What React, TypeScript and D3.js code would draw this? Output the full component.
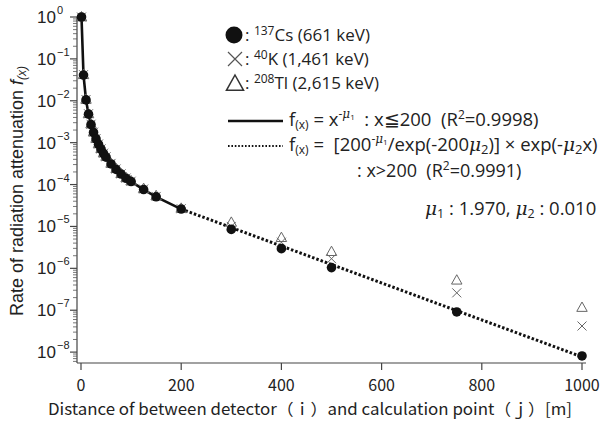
import React from "react";
import * as d3 from "d3";

const distances = [1, 5, 10, 15, 20, 25, 30, 35, 40, 45, 50, 60, 70, 80, 90, 100, 125, 150, 200, 300, 400, 500, 750, 1000];
const cs137 = [1, 0.041, 0.0105, 0.0048, 0.0027, 0.00175, 0.00123, 0.00091, 0.0007, 0.00055, 0.00045, 0.00031, 0.00023, 0.000178, 0.000141, 0.000118, 0.000076, 0.000051, 0.000026, 8.5e-6, 2.95e-6, 1.04e-6, 9.1e-8, 8.1e-9];
const k40 = [1, 0.042, 0.0107, 0.0049, 0.00275, 0.00178, 0.00125, 0.00093, 0.00071, 0.00056, 0.00046, 0.00032, 0.000235, 0.00018, 0.000143, 0.00012, 0.000078, 0.000052, 0.0000265, 1.0e-5, 4.2e-6, 1.7e-6, 2.6e-7, 4.2e-8];
const tl208 = [1, 0.042, 0.0108, 0.0049, 0.0028, 0.0018, 0.00126, 0.00094, 0.00072, 0.00057, 0.00047, 0.00032, 0.00024, 0.000182, 0.000145, 0.000122, 0.00008, 0.000054, 0.000027, 1.25e-5, 5.4e-6, 2.5e-6, 5.2e-7, 1.16e-7];
const fitExpX = [200, 1000];
const fitExpY = [2.6e-5, 7.7e-9];
const xTicks = [0, 200, 400, 600, 800, 1000];
const yExponents = [0, -1, -2, -3, -4, -5, -6, -7, -8];

const W = 606, H = 423;
const axisLeft = 77, axisBottom = 363, axisTop = 17, axisRight = 586;

export default function App() {
  const x = d3.scaleLinear().domain([0, 1000]).range([81, 582]);
  const y = d3.scaleLog().domain([Math.pow(10, -8.26), 1]).range([axisBottom, axisTop]);

  const powIdx = distances.map((d, i) => i).filter((i) => distances[i] <= 200);
  const solid = d3.line<number>().x((i) => x(distances[i])).y((i) => y(cs137[i]))(powIdx) || "";
  const dotted = d3.line<number>().x((i) => x(fitExpX[i])).y((i) => y(fitExpY[i]))([0, 1]) || "";

  const minor: number[] = [];
  for (let e = -9; e < 0; e++) for (let m = 2; m <= 9; m++) {
    const v = m * Math.pow(10, e);
    if (v >= Math.pow(10, -8.26) && v <= 1) minor.push(v);
  }

  const tri = (cx: number, cy: number, s: number) =>
    `M${cx},${cy - s}L${cx + s * 0.95},${cy + s * 0.7}L${cx - s * 0.95},${cy + s * 0.7}Z`;
  const cross = (cx: number, cy: number, s: number) =>
    `M${cx - s},${cy - s}L${cx + s},${cy + s}M${cx - s},${cy + s}L${cx + s},${cy - s}`;

  const lf = "'Open Sans', 'Noto Sans', sans-serif";
  const af = "'Noto Sans CJK JP', 'Liberation Sans', sans-serif";
  const mf = "'DejaVu Serif', 'Liberation Serif', serif";
  const pre = { whiteSpace: "pre" as const };

  return (
    <svg width={W} height={H} style={{ position: "absolute", left: 0, top: 0, background: "#fff" }}>
      <rect width={W} height={H} fill="#fff" />
      {/* axes */}
      <line x1={axisLeft} x2={axisLeft} y1={axisTop} y2={axisBottom} stroke="#444" strokeWidth={1.2} />
      <line x1={axisLeft} x2={axisRight} y1={axisBottom} y2={axisBottom} stroke="#444" strokeWidth={1.2} />
      {minor.map((v, i) => (
        <line key={"mn" + i} x1={axisLeft - 4} x2={axisLeft} y1={y(v)} y2={y(v)} stroke="#555" strokeWidth={0.8} />
      ))}
      {yExponents.map((e) => (
        <g key={"ye" + e}>
          <line x1={axisLeft - 7} x2={axisLeft} y1={y(Math.pow(10, e))} y2={y(Math.pow(10, e))} stroke="#444" strokeWidth={1.2} />
          <text x={56} y={y(Math.pow(10, e)) + 6} textAnchor="end" fontFamily="'Liberation Sans', sans-serif" fontSize={17} fill="#222">10</text>
          <text x={57} y={y(Math.pow(10, e)) - 3} fontFamily="'Liberation Sans', sans-serif" fontSize={11} fill="#222">{e === 0 ? "0" : "\u2212" + (-e)}</text>
        </g>
      ))}
      {xTicks.map((t) => (
        <g key={"xt" + t}>
          <line x1={x(t)} x2={x(t)} y1={axisBottom} y2={axisBottom + 7} stroke="#444" strokeWidth={1.2} />
          <text x={x(t)} y={391} textAnchor="middle" fontFamily={af} fontSize={16} fill="#222">{t}</text>
        </g>
      ))}
      <text x={310} y={415} textAnchor="middle" fontFamily={af} fontSize={16} fill="#222" textLength={524} lengthAdjust="spacingAndGlyphs">
        Distance of between detector（ｉ）and calculation point（ｊ）[m]
      </text>
      <text transform="translate(23,191) rotate(-90)" textAnchor="middle" fontFamily="'Liberation Sans', sans-serif" fontSize={18} fill="#222">
        Rate of radiation attenuation <tspan fontStyle="italic">f</tspan><tspan fontStyle="italic" fontSize={12} dy={3}>(x)</tspan>
      </text>

      {/* fit lines */}
      <path d={solid} fill="none" stroke="#111" strokeWidth={2.6} />
      <path d={dotted} fill="none" stroke="#111" strokeWidth={3} strokeDasharray="2.5,2" />

      {/* markers */}
      {distances.map((d, i) => (
        <path key={"tl" + i} d={tri(x(d), y(tl208[i]), 5.5)} fill="none" stroke="#666" strokeWidth={1} />
      ))}
      {distances.map((d, i) => (
        <path key={"k" + i} d={cross(x(d), y(k40[i]), 4.5)} fill="none" stroke="#666" strokeWidth={1} />
      ))}
      {distances.map((d, i) => (
        <circle key={"cs" + i} cx={x(d)} cy={y(cs137[i])} r={4.8} fill="#111" />
      ))}

      {/* legend */}
      <circle cx={234} cy={35} r={8.5} fill="#111" />
      <text x={245} y={41} fontFamily={lf} fontSize={17} fill="#222" style={pre}>: <tspan fontSize={12} dy={-6}>137</tspan><tspan dy={6}>Cs (661 keV)</tspan></text>
      <path d={cross(235, 59, 7)} stroke="#555" strokeWidth={1.2} fill="none" />
      <text x={245} y={65} fontFamily={lf} fontSize={17} fill="#222" style={pre}>: <tspan fontSize={12} dy={-6}>40</tspan><tspan dy={6}>K (1,461 keV)</tspan></text>
      <path d={tri(235, 84, 9)} stroke="#333" strokeWidth={1.5} fill="none" />
      <text x={245} y={89} fontFamily={lf} fontSize={17} fill="#222" style={pre}>: <tspan fontSize={12} dy={-6}>208</tspan><tspan dy={6}>Tl (2,615 keV)</tspan></text>

      <line x1={228} x2={283} y1={121} y2={121} stroke="#111" strokeWidth={2.6} />
      <text x={289} y={126} fontFamily={lf} fontSize={18.5} fill="#222" style={pre}>
        f<tspan fontSize={12} dy={3}>(x)</tspan><tspan dy={-3}> = x</tspan><tspan fontSize={12} dy={-8}>-</tspan><tspan fontSize={12} fontFamily={mf} fontStyle="italic">μ</tspan><tspan fontSize={8} dy={2}>1</tspan><tspan dy={6}>  : x≦200  (R</tspan><tspan fontSize={12} dy={-7}>2</tspan><tspan dy={7}>=0.9998)</tspan>
      </text>
      <line x1={228} x2={283} y1={146} y2={146} stroke="#111" strokeWidth={2} strokeDasharray="1.6,1.8" />
      <text x={289} y={151} fontFamily={lf} fontSize={18.5} fill="#222" style={pre}>
        f<tspan fontSize={12} dy={3}>(x)</tspan><tspan dy={-3}> =  [200</tspan><tspan fontSize={12} dy={-8}>-</tspan><tspan fontSize={12} fontFamily={mf} fontStyle="italic">μ</tspan><tspan fontSize={8} dy={2}>1</tspan><tspan dy={6}>/exp(-200</tspan><tspan fontFamily={mf} fontStyle="italic">μ</tspan><tspan fontSize={13} dy={3}>2</tspan><tspan dy={-3}>)] × exp(-</tspan><tspan fontFamily={mf} fontStyle="italic">μ</tspan><tspan fontSize={13} dy={3}>2</tspan><tspan dy={-3}>x)</tspan>
      </text>
      <text x={357} y={177} fontFamily={lf} fontSize={18} fill="#222" style={pre}>
        : x&gt;200  (R<tspan fontSize={12} dy={-7}>2</tspan><tspan dy={7}>=0.9991)</tspan>
      </text>
      <text x={425} y={215} fontFamily={lf} fontSize={18.5} fill="#222" style={pre}>
        <tspan fontFamily={mf} fontStyle="italic">μ</tspan><tspan fontSize={12.5} dy={3}>1</tspan><tspan dy={-3}> : 1.970, </tspan><tspan fontFamily={mf} fontStyle="italic">μ</tspan><tspan fontSize={12.5} dy={3}>2</tspan><tspan dy={-3}> : 0.010</tspan>
      </text>
    </svg>
  );
}
